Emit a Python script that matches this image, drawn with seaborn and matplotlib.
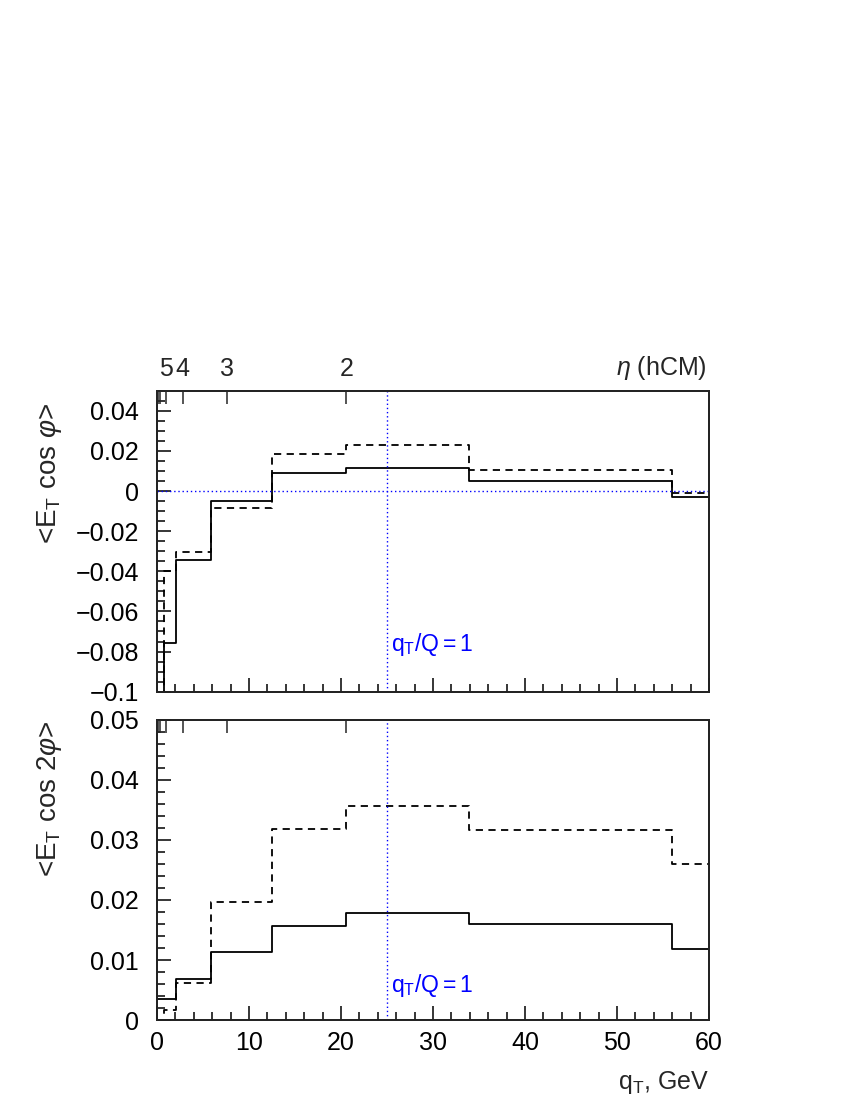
import numpy as np
import pandas as pd
import seaborn as sns
import matplotlib.pyplot as plt
from matplotlib.ticker import MultipleLocator, FixedLocator, NullFormatter

# bin edges in q_T (GeV)
edges = [0, 0.8, 2.1, 5.9, 12.5, 20.6, 33.9, 56.0, 60.0]

# <E_T cos phi>
cos1_solid = [-0.15, -0.0759, -0.0344, -0.0051, 0.0091, 0.0116, 0.0051, -0.0028]
cos1_dash = [-0.15, -0.0399, -0.0306, -0.0086, 0.0184, 0.0231, 0.0105, -0.0008]

# <E_T cos 2phi>
cos2_solid = [0.0035, 0.0035, 0.0068, 0.0114, 0.0157, 0.0179, 0.0160, 0.0118]
cos2_dash = [-0.002, 0.0017, 0.0061, 0.0197, 0.0319, 0.0357, 0.0317, 0.0260]

# eta (hCM) scale on top
eta_vals = [2, 3, 4, 5, 6, 7, 8]
eta_labels = ['2', '3', '4', '5', '', '', '']
eta_qt = [152.0 * np.exp(-e) for e in eta_vals]

sns.set_theme(style='ticks')
plt.rcParams['font.family'] = ['Liberation Sans', 'DejaVu Sans']
plt.rcParams['mathtext.fontset'] = 'custom'
plt.rcParams['mathtext.rm'] = 'Liberation Sans'
plt.rcParams['mathtext.it'] = 'Liberation Sans:italic'
plt.rcParams['axes.unicode_minus'] = True

fig = plt.figure(figsize=(8.5, 11), dpi=100)
ax1 = fig.add_axes([0.1847, 0.3712, 0.6493, 0.2736])
ax2 = fig.add_axes([0.1847, 0.0727, 0.6493, 0.2728])

FS = 18


def steps(ax, vals, ls):
    df = pd.DataFrame({'x': edges, 'y': list(vals) + [vals[-1]]})
    sns.lineplot(data=df, x='x', y='y', ax=ax, color='black', linewidth=1.3,
                 linestyle=ls, drawstyle='steps-post', estimator=None, sort=False)


def style(ax, ylo, yhi, major, minor):
    ax.set_xlim(0, 60)
    ax.set_ylim(ylo, yhi)
    ax.xaxis.set_major_locator(MultipleLocator(10))
    ax.xaxis.set_minor_locator(MultipleLocator(2))
    ax.yaxis.set_major_locator(MultipleLocator(major))
    ax.yaxis.set_minor_locator(MultipleLocator(minor))
    ax.tick_params(which='both', direction='in', right=False, top=False,
                   labelsize=FS, colors='black', width=1.1)
    ax.tick_params(which='major', length=10)
    ax.tick_params(axis='y', which='major', pad=13)
    ax.tick_params(axis='x', which='major', pad=8)
    ax.tick_params(which='minor', length=5.5)
    for s in ax.spines.values():
        s.set_linewidth(1.3)
        s.set_color('black')
    ax.axvline(25, color='blue', linestyle=(0, (1, 2)), linewidth=1.0)
    top = ax.twiny()
    top.set_xlim(0, 60)
    top.xaxis.set_major_locator(FixedLocator(eta_qt))
    top.xaxis.set_minor_locator(FixedLocator([]))
    top.tick_params(which='major', direction='in', length=9, width=1.1, pad=7,
                    labelsize=FS)
    top.spines['top'].set_linewidth(1.3)
    return top


steps(ax1, cos1_solid, '-')
steps(ax1, cos1_dash, (0, (4, 3)))
t1 = style(ax1, -0.1, 0.05, 0.02, 0.005)
ax1.axhline(0, color='blue', linestyle=(0, (1, 2)), linewidth=1.0)
t1.set_xticklabels(eta_labels)
ax1.xaxis.set_major_formatter(NullFormatter())
ax1.set_yticks([-0.1, -0.08, -0.06, -0.04, -0.02, 0, 0.02, 0.04])
ax1.set_yticklabels(['\u22120.1', '\u22120.08', '\u22120.06', '\u22120.04',
                     '\u22120.02', '0', '0.02', '0.04'])
ax1.set_xlabel('')
ax1.set_ylabel(r'<E$_\mathregular{T}$ cos $\varphi$>', fontsize=20, ha='right')
ax1.yaxis.set_label_coords(-0.168, 0.96)
ax1.text(25.4, -0.0767, r'q$_\mathregular{T}$/Q$=$1', color='blue', fontsize=16.5,
         va='center', ha='left')
ax1.text(0.997, 1.075, r'$\eta$ (hCM)', transform=ax1.transAxes, fontsize=FS,
         ha='right', va='center')

steps(ax2, cos2_solid, '-')
steps(ax2, cos2_dash, (0, (4, 3)))
t2 = style(ax2, 0, 0.05, 0.01, 0.002)
t2.set_xticklabels([])
ax2.set_yticks([0, 0.01, 0.02, 0.03, 0.04, 0.05])
ax2.set_yticklabels(['0', '0.01', '0.02', '0.03', '0.04', '0.05'])
ax2.set_ylabel(r'<E$_\mathregular{T}$ cos 2$\varphi$>', fontsize=20, ha='right')
ax2.yaxis.set_label_coords(-0.168, 1.0)
ax2.set_xlabel(r'q$_\mathregular{T}$, GeV', fontsize=FS, loc='right', labelpad=10)
ax2.text(25.4, 0.0058, r'q$_\mathregular{T}$/Q$=$1', color='blue', fontsize=16.5,
         va='center', ha='left')

fig.savefig('out.png', dpi=100, facecolor='white')
